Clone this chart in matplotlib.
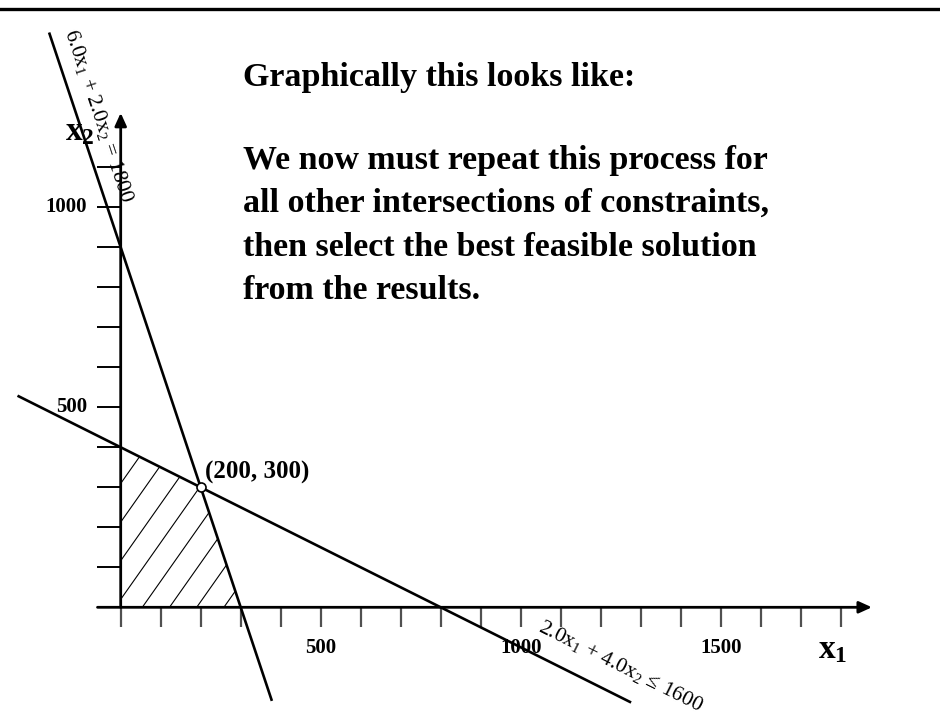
import numpy as np
import matplotlib
matplotlib.use("Agg")
import matplotlib.pyplot as plt
from matplotlib.patches import Polygon
from matplotlib.lines import Line2D

SERIF = ["Liberation Serif", "DejaVu Serif"]
plt.rcParams["font.family"] = SERIF
plt.rcParams["mathtext.fontset"] = "custom"
plt.rcParams["mathtext.rm"] = "Liberation Serif"
plt.rcParams["mathtext.it"] = "Liberation Serif:italic"
plt.rcParams["mathtext.bf"] = "Liberation Serif:bold"

# ---------------- data ----------------
# constraint 1: 6.0 x1 + 2.0 x2 = 1800
c1_coef = [6.0, 2.0, 1800.0]
c1_x1_range = [-179.0, 378.0]
# constraint 2: 2.0 x1 + 4.0 x2 <= 1600
c2_coef = [2.0, 4.0, 1600.0]
c2_x1_range = [-258.0, 1276.0]
# feasible region corners
feasible_x1 = [0, 0, 200, 300]
feasible_x2 = [0, 400, 300, 0]
# intersection point
point_x1 = 200
point_x2 = 300
point_label = "(200, 300)"
# axes ticks
x_ticks = np.arange(0, 1900, 100)
y_ticks = np.arange(100, 1200, 100)
x_tick_labels = {500: "500", 1000: "1000", 1500: "1500"}
y_tick_labels = {500: "500", 1000: "1000"}

title_text = "Graphically this looks like:"
body_lines = [
    "We now must repeat this process for",
    "all other intersections of constraints,",
    "then select the best feasible solution",
    "from the results.",
]

# ---------------- figure ----------------
W, H = 940, 721
fig = plt.figure(figsize=(W / 100, H / 100), dpi=100)
ax = fig.add_axes([0, 0, 1, 1])
# pixel mapping: 0.4 px per unit, origin at (120.7, 607.3)
sx = 0.4
ox, oy = 120.7, 607.3
ax.set_xlim(-ox / sx, (W - ox) / sx)
ax.set_ylim((oy - H) / sx, oy / sx)
ax.axis("off")


def px(xp, yp):
    """convert pixel position (from top-left) to data units"""
    return (xp - ox) / sx, (oy - yp) / sx


# top rule
fig.add_artist(Line2D([0, 1], [1 - 8.5 / H, 1 - 8.5 / H], transform=fig.transFigure,
                      color="black", lw=2.4))

# axes with arrows
ax.annotate("", xy=(1878, 0), xytext=(-58, 0),
            arrowprops=dict(arrowstyle="-|>,head_length=0.55,head_width=0.25",
                            lw=2.0, color="black", shrinkA=0, shrinkB=0,
                            mutation_scale=14))
ax.annotate("", xy=(0, 1236), xytext=(0, 0),
            arrowprops=dict(arrowstyle="-|>,head_length=0.55,head_width=0.25",
                            lw=2.0, color="black", shrinkA=0, shrinkB=0,
                            mutation_scale=14))

# ticks
ax.vlines(x_ticks, -50, 0, color="#505050", lw=1.6)
ax.hlines(y_ticks, -60, 0, color="black", lw=1.4)

for v, lab in x_tick_labels.items():
    ax.text(v, -114, lab, ha="center", va="baseline", fontsize=15,
            fontweight="bold")
for v, lab in y_tick_labels.items():
    ax.text(-84, v, lab, ha="right", va="center", fontsize=15,
            fontweight="bold")

# hatched feasible region (parallel lines clipped to polygon)
poly = Polygon(np.column_stack([feasible_x1, feasible_x2]), closed=True,
               facecolor="none", edgecolor="none")
ax.add_patch(poly)
hatch_slope = 1.42
for c in np.arange(-14 - 68 * 5, 320, 68):
    xs = np.array([c, c + 1000 / hatch_slope])
    ln, = ax.plot(xs, hatch_slope * (xs - c), color="black", lw=0.8)
    ln.set_clip_path(poly)

# constraint lines
for coef, rng in [(c1_coef, c1_x1_range), (c2_coef, c2_x1_range)]:
    a, b, r = coef
    xs = np.array(rng)
    ax.plot(xs, (r - a * xs) / b, color="black", lw=1.9, solid_capstyle="butt")

# intersection point
ax.plot([point_x1], [point_x2], "o", ms=6.5, mfc="white", mec="black",
        mew=1.2, zorder=5)
ax.text(point_x1 + 10.75, 322, point_label, ha="left", va="baseline",
        fontsize=18, fontweight="bold")

# constraint labels
ang1 = np.degrees(np.arctan(-c1_coef[0] / c1_coef[1]))
ang2 = np.degrees(np.arctan(-c2_coef[0] / c2_coef[1]))
x, y = px(99, 116)
ax.text(x, y, r"6.0x$_1$ + 2.0x$_2$ = 1800", rotation=ang1,
        rotation_mode="anchor", ha="center", va="center", fontsize=15.5)
x, y = px(621, 666)
ax.text(x, y, "2.0x$_1$ + 4.0x$_2$ \u2264 1600", rotation=ang2,
        rotation_mode="anchor", ha="center", va="center", fontsize=15.5)

# axis labels
x, y = px(65, 140)
ax.text(x, y, r"$\mathbf{x_2}$", ha="left", va="baseline", fontsize=24)
x, y = px(818, 658)
ax.text(x, y, r"$\mathbf{x_1}$", ha="left", va="baseline", fontsize=24)

# slide text
fig.text(243 / W, 1 - 86 / H, title_text, ha="left", va="baseline",
         fontsize=24.5, fontweight="bold")
for i, line in enumerate(body_lines):
    fig.text(243 / W, 1 - (168.5 + 43.5 * i) / H, line, ha="left",
             va="baseline", fontsize=24.5, fontweight="bold")

fig.savefig("out.png", dpi=100)
